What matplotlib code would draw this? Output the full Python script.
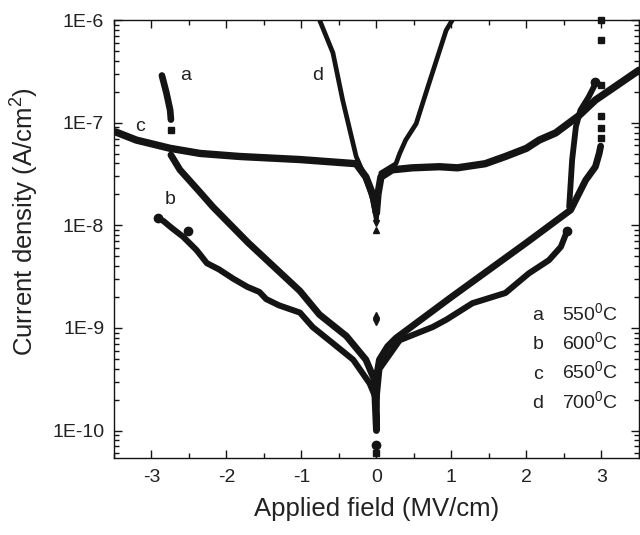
import matplotlib
matplotlib.use("Agg")
import matplotlib.pyplot as plt
from matplotlib.ticker import LogLocator, MultipleLocator, FixedLocator, NullFormatter

plt.rcParams['font.family'] = ['Liberation Sans', 'DejaVu Sans']
plt.rcParams['mathtext.fontset'] = 'custom'
plt.rcParams['mathtext.rm'] = 'Liberation Sans'
plt.rcParams['mathtext.it'] = 'Liberation Sans:italic'
plt.rcParams['mathtext.bf'] = 'Liberation Sans:bold'

# ---------------- data ----------------
# curve a (550 C, squares)
a_spike_x = [-2.86, -2.80, -2.75, -2.74]
a_spike_y = [2.88e-7, 1.95e-7, 1.32e-7, 1.07e-7]
a_pt_x = [-2.74]
a_pt_y = [8.4e-8]
a_main_x = [-2.74, -2.62, -2.35, -2.18, -1.71, -1.02, -0.76, -0.40, -0.14, -0.03, 0.0,
            0.0, 0.04, 0.15, 0.26, 1.0, 2.0, 2.59, 2.79, 2.92, 2.97, 2.99]
a_main_y = [4.84e-8, 3.47e-8, 2.09e-8, 1.51e-8, 6.76e-9, 2.29e-9, 1.35e-9, 8.32e-10, 4.90e-10, 3.16e-10, 1.0e-10,
            3.3e-10, 4.9e-10, 6.6e-10, 7.94e-10, 2.0e-9, 6.76e-9, 1.41e-8, 2.75e-8, 3.72e-8, 5.0e-8, 5.9e-8]
a_col_x = [2.99, 2.99, 2.99, 2.99, 2.99, 2.99]
a_col_y = [7.08e-8, 8.9e-8, 1.15e-7, 2.33e-7, 6.38e-7, 1.0e-6]
a_zero_x = [0.0]
a_zero_y = [6.0e-11]

# curve b (600 C, circles)
b_main_x = [-2.91, -2.84, -2.72, -2.58, -2.40, -2.26, -2.10, -1.91, -1.72, -1.56, -1.47, -1.30,
            -1.02, -0.85, -0.58, -0.31, -0.09, 0.0, 0.04, 0.31, 0.75, 0.93, 1.28, 1.72, 2.03,
            2.30, 2.46, 2.54]
b_main_y = [1.17e-8, 1.10e-8, 9.3e-9, 7.76e-9, 5.75e-9, 4.27e-9, 3.72e-9, 3.02e-9, 2.51e-9, 2.24e-9, 1.91e-9, 1.66e-9,
            1.41e-9, 1.02e-9, 7.08e-10, 4.90e-10, 2.88e-10, 2.0e-10, 3.98e-10, 7.59e-10, 1.02e-9, 1.20e-9, 1.74e-9, 2.19e-9, 3.39e-9,
            4.57e-9, 6.17e-9, 8.71e-9]
b_steep_x = [2.57, 2.61, 2.66, 2.72, 2.83, 2.90, 2.92]
b_steep_y = [1.51e-8, 4.37e-8, 9.12e-8, 1.32e-7, 1.78e-7, 2.24e-7, 2.51e-7]
b_pt_x = [-2.51, 0.0, -2.91, 2.92, 2.54]
b_pt_y = [8.7e-9, 7.3e-11, 1.17e-8, 2.51e-7, 8.71e-9]

# curve c (650 C, up triangles)
c_main_x = [-3.48, -3.20, -2.75, -2.35, -1.82, -1.02, -0.27, -0.14, -0.05, 0.0,
            0.02, 0.06, 0.21, 0.48, 0.84, 1.08, 1.45, 1.72, 2.00, 2.17, 2.39, 2.70, 2.92, 3.20, 3.50]
c_main_y = [8.13e-8, 6.76e-8, 5.62e-8, 5.01e-8, 4.68e-8, 4.37e-8, 3.98e-8, 2.95e-8, 2.0e-8, 1.32e-8,
            2.0e-8, 2.95e-8, 3.47e-8, 3.63e-8, 3.72e-8, 3.63e-8, 3.98e-8, 4.68e-8, 5.62e-8, 6.76e-8, 7.94e-8, 1.17e-7, 1.66e-7, 2.29e-7, 3.24e-7]
c_pt_x = [0.0, 0.0]
c_pt_y = [9.0e-9, 1.34e-9]

# curve d (700 C, down triangles)
d_main_x = [-0.77, -0.58, -0.45, -0.27, -0.14, -0.05, 0.0,
            0.02, 0.06, 0.26, 0.31, 0.39, 0.53, 0.70, 0.93, 1.03]
d_main_y = [1.05e-6, 4.79e-7, 1.66e-7, 4.68e-8, 2.82e-8, 1.78e-8, 1.12e-8,
            1.78e-8, 3.24e-8, 3.98e-8, 5.0e-8, 6.76e-8, 9.77e-8, 2.40e-7, 7.94e-7, 1.05e-6]
d_pt_x = [0.0, 0.0]
d_pt_y = [1.06e-8, 1.13e-9]

curve_labels = ['a', 'b', 'c', 'd']
curve_label_x = [-2.55, -2.75, -3.15, -0.78]
curve_label_y = [2.9e-7, 1.77e-8, 9.1e-8, 2.9e-7]
legend_temps = ['550', '600', '650', '700']

x_ticks = [-3, -2, -1, 0, 1, 2, 3]
y_ticks = [1e-10, 1e-9, 1e-8, 1e-7, 1e-6]
y_ticklabels = ['1E-10', '1E-9', '1E-8', '1E-7', '1E-6']

# ---------------- figure ----------------
K = '#141414'
fig = plt.figure(figsize=(6.4, 5.35), dpi=100)
ax = fig.add_axes([0.178, 0.1439, 0.8203, 0.8187])
ax.set_yscale('log')
ax.set_xlim(-3.5, 3.5)
ax.set_ylim(5.4e-11, 1e-6)

lk = dict(color=K, solid_capstyle='round', solid_joinstyle='round')
ax.plot(a_spike_x, a_spike_y, lw=4.8, **lk)
ax.plot(a_main_x, a_main_y, lw=4.9, **lk)
ax.plot(a_pt_x, a_pt_y, 's', color=K, ms=5)
ax.plot(a_col_x, a_col_y, 's', color=K, ms=5, clip_on=False)
ax.plot(a_zero_x, a_zero_y, 's', color=K, ms=5)

ax.plot(b_main_x, b_main_y, lw=4.4, **lk)
ax.plot(b_steep_x, b_steep_y, lw=4.2, **lk)
ax.plot(b_pt_x, b_pt_y, 'o', color=K, ms=6)

ax.plot(c_main_x, c_main_y, lw=5.3, **lk)
ax.plot(c_pt_x, c_pt_y, '^', color=K, ms=5)

ax.plot(d_main_x, d_main_y, lw=3.4, **lk)
ax.plot(d_pt_x, d_pt_y, 'v', color=K, ms=5)

fs = 14
for t, x, y in zip(curve_labels, curve_label_x, curve_label_y):
    ax.text(x, y, t, fontsize=fs, ha='center', va='center', color='#222222')

for i, (t, temp) in enumerate(zip(curve_labels, legend_temps)):
    yb = 0.315 - i * 0.0668
    ax.text(0.808, yb, t, transform=ax.transAxes, fontsize=fs, ha='center', va='baseline', color='#222222')
    ax.text(0.854, yb, temp + r'$\mathregular{^0}$C', transform=ax.transAxes, fontsize=fs,
            ha='left', va='baseline', color='#222222')

ax.xaxis.set_major_locator(FixedLocator(x_ticks))
ax.xaxis.set_minor_locator(MultipleLocator(0.5))
ax.set_xticklabels([str(v) for v in x_ticks])
ax.yaxis.set_major_locator(FixedLocator(y_ticks))
ax.set_yticklabels(y_ticklabels)
ax.yaxis.set_minor_locator(LogLocator(base=10, subs=[2, 3, 4, 5, 6, 7, 8, 9], numticks=20))
ax.yaxis.set_minor_formatter(NullFormatter())

ax.tick_params(which='both', direction='in', top=True, right=True, width=1.0, colors=K)
ax.tick_params(which='major', length=6)
ax.tick_params(which='minor', length=3.5)
ax.tick_params(axis='x', which='major', pad=8, labelsize=fs, labelcolor='#222222')
ax.tick_params(axis='y', which='major', pad=7, labelsize=fs, labelcolor='#222222')
for s in ax.spines.values():
    s.set_linewidth(1.0)
    s.set_color(K)

ax.set_xlabel('Applied field (MV/cm)', fontsize=18.5, color='#222222', labelpad=8)
ax.set_ylabel(r'Current density (A/cm$\mathregular{^2}$)', fontsize=18.5, color='#222222')
ax.yaxis.set_label_coords(-0.138, 0.54)

fig.savefig('out.png', dpi=100)
